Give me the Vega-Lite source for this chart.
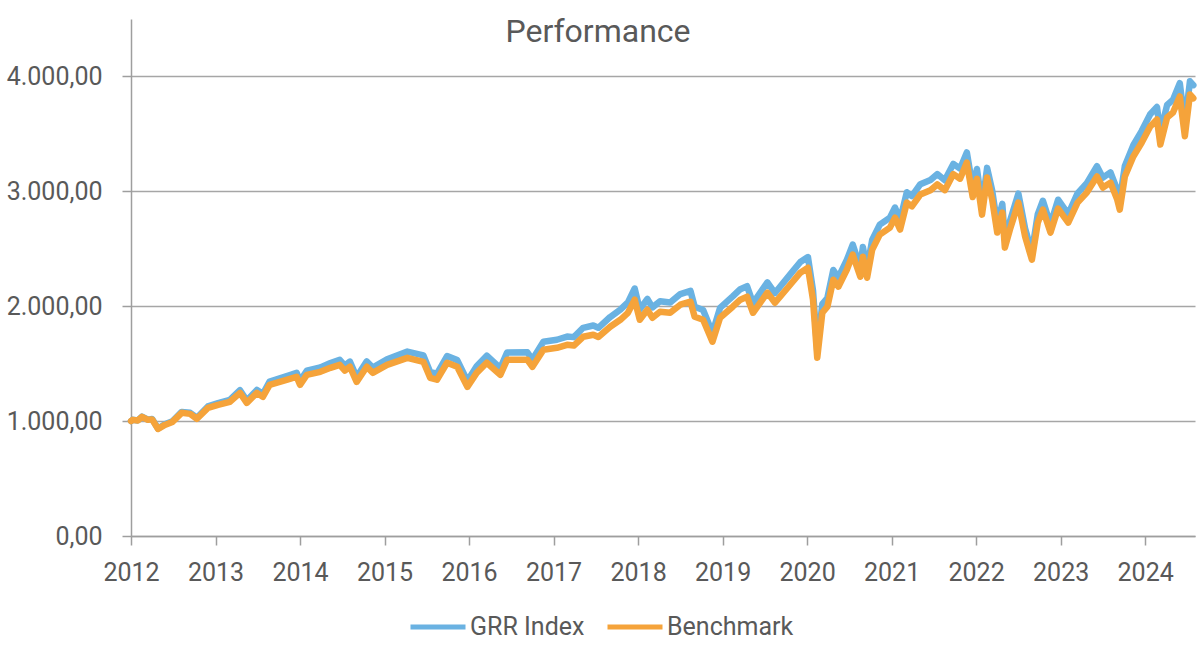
{
  "$schema": "https://vega.github.io/schema/vega-lite/v6.json",
  "width": 1064,
  "height": 517,
  "autosize": "none",
  "padding": {"left": 131, "top": 19, "right": 5, "bottom": 135},
  "background": "white",
  "title": {
    "text": "Performance",
    "fontSize": 32,
    "fontWeight": "normal",
    "color": "#595959",
    "anchor": "middle",
    "frame": "group",
    "dx": -65,
    "baseline": "alphabetic",
    "offset": 0,
    "dy": 55
  },
  "data": {
    "values": [
      {"t": 2012.00, "GRR Index": 1000, "Benchmark": 1000},
      {"t": 2012.02, "GRR Index": 1011, "Benchmark": 1011},
      {"t": 2012.08, "GRR Index": 1006, "Benchmark": 1005},
      {"t": 2012.13, "GRR Index": 1039, "Benchmark": 1037},
      {"t": 2012.20, "GRR Index": 1013, "Benchmark": 1011},
      {"t": 2012.25, "GRR Index": 1018, "Benchmark": 1015},
      {"t": 2012.32, "GRR Index": 936, "Benchmark": 932},
      {"t": 2012.40, "GRR Index": 972, "Benchmark": 967},
      {"t": 2012.49, "GRR Index": 999, "Benchmark": 993},
      {"t": 2012.60, "GRR Index": 1080, "Benchmark": 1072},
      {"t": 2012.70, "GRR Index": 1072, "Benchmark": 1063},
      {"t": 2012.78, "GRR Index": 1030, "Benchmark": 1020},
      {"t": 2012.91, "GRR Index": 1128, "Benchmark": 1115},
      {"t": 2013.03, "GRR Index": 1156, "Benchmark": 1142},
      {"t": 2013.17, "GRR Index": 1185, "Benchmark": 1168},
      {"t": 2013.29, "GRR Index": 1269, "Benchmark": 1246},
      {"t": 2013.37, "GRR Index": 1180, "Benchmark": 1159},
      {"t": 2013.49, "GRR Index": 1271, "Benchmark": 1246},
      {"t": 2013.56, "GRR Index": 1236, "Benchmark": 1211},
      {"t": 2013.64, "GRR Index": 1344, "Benchmark": 1316},
      {"t": 2013.76, "GRR Index": 1372, "Benchmark": 1342},
      {"t": 2013.88, "GRR Index": 1400, "Benchmark": 1368},
      {"t": 2013.96, "GRR Index": 1420, "Benchmark": 1386},
      {"t": 2014.00, "GRR Index": 1349, "Benchmark": 1316},
      {"t": 2014.08, "GRR Index": 1439, "Benchmark": 1403},
      {"t": 2014.24, "GRR Index": 1467, "Benchmark": 1429},
      {"t": 2014.36, "GRR Index": 1505, "Benchmark": 1464},
      {"t": 2014.47, "GRR Index": 1534, "Benchmark": 1490},
      {"t": 2014.53, "GRR Index": 1483, "Benchmark": 1440},
      {"t": 2014.59, "GRR Index": 1518, "Benchmark": 1473},
      {"t": 2014.67, "GRR Index": 1383, "Benchmark": 1342},
      {"t": 2014.79, "GRR Index": 1520, "Benchmark": 1473},
      {"t": 2014.86, "GRR Index": 1466, "Benchmark": 1420},
      {"t": 2015.03, "GRR Index": 1539, "Benchmark": 1490},
      {"t": 2015.27, "GRR Index": 1605, "Benchmark": 1551},
      {"t": 2015.46, "GRR Index": 1572, "Benchmark": 1516},
      {"t": 2015.54, "GRR Index": 1428, "Benchmark": 1377},
      {"t": 2015.62, "GRR Index": 1411, "Benchmark": 1360},
      {"t": 2015.74, "GRR Index": 1566, "Benchmark": 1508},
      {"t": 2015.86, "GRR Index": 1531, "Benchmark": 1473},
      {"t": 2015.98, "GRR Index": 1350, "Benchmark": 1298},
      {"t": 2016.09, "GRR Index": 1477, "Benchmark": 1420},
      {"t": 2016.21, "GRR Index": 1569, "Benchmark": 1508},
      {"t": 2016.37, "GRR Index": 1461, "Benchmark": 1403},
      {"t": 2016.45, "GRR Index": 1598, "Benchmark": 1534},
      {"t": 2016.69, "GRR Index": 1599, "Benchmark": 1534},
      {"t": 2016.75, "GRR Index": 1536, "Benchmark": 1473},
      {"t": 2016.88, "GRR Index": 1691, "Benchmark": 1621},
      {"t": 2017.04, "GRR Index": 1708, "Benchmark": 1638},
      {"t": 2017.16, "GRR Index": 1736, "Benchmark": 1664},
      {"t": 2017.24, "GRR Index": 1731, "Benchmark": 1658},
      {"t": 2017.35, "GRR Index": 1812, "Benchmark": 1734},
      {"t": 2017.47, "GRR Index": 1832, "Benchmark": 1752},
      {"t": 2017.53, "GRR Index": 1812, "Benchmark": 1732},
      {"t": 2017.67, "GRR Index": 1906, "Benchmark": 1821},
      {"t": 2017.79, "GRR Index": 1970, "Benchmark": 1882},
      {"t": 2017.88, "GRR Index": 2034, "Benchmark": 1943},
      {"t": 2017.96, "GRR Index": 2154, "Benchmark": 2057},
      {"t": 2018.02, "GRR Index": 1972, "Benchmark": 1882},
      {"t": 2018.11, "GRR Index": 2063, "Benchmark": 1969},
      {"t": 2018.17, "GRR Index": 1990, "Benchmark": 1900},
      {"t": 2018.26, "GRR Index": 2044, "Benchmark": 1952},
      {"t": 2018.38, "GRR Index": 2033, "Benchmark": 1943},
      {"t": 2018.50, "GRR Index": 2106, "Benchmark": 2013},
      {"t": 2018.62, "GRR Index": 2133, "Benchmark": 2039},
      {"t": 2018.67, "GRR Index": 1995, "Benchmark": 1908},
      {"t": 2018.77, "GRR Index": 1967, "Benchmark": 1882},
      {"t": 2018.88, "GRR Index": 1767, "Benchmark": 1691},
      {"t": 2018.97, "GRR Index": 1985, "Benchmark": 1900},
      {"t": 2019.12, "GRR Index": 2085, "Benchmark": 1996},
      {"t": 2019.21, "GRR Index": 2148, "Benchmark": 2057},
      {"t": 2019.29, "GRR Index": 2174, "Benchmark": 2083},
      {"t": 2019.36, "GRR Index": 2027, "Benchmark": 1943},
      {"t": 2019.53, "GRR Index": 2208, "Benchmark": 2118},
      {"t": 2019.62, "GRR Index": 2115, "Benchmark": 2030},
      {"t": 2019.80, "GRR Index": 2277, "Benchmark": 2187},
      {"t": 2019.92, "GRR Index": 2385, "Benchmark": 2292},
      {"t": 2020.01, "GRR Index": 2428, "Benchmark": 2335},
      {"t": 2020.07, "GRR Index": 2138, "Benchmark": 2057},
      {"t": 2020.12, "GRR Index": 1611, "Benchmark": 1551},
      {"t": 2020.18, "GRR Index": 2018, "Benchmark": 1943},
      {"t": 2020.24, "GRR Index": 2072, "Benchmark": 1996},
      {"t": 2020.31, "GRR Index": 2315, "Benchmark": 2231},
      {"t": 2020.37, "GRR Index": 2250, "Benchmark": 2170},
      {"t": 2020.47, "GRR Index": 2402, "Benchmark": 2318},
      {"t": 2020.54, "GRR Index": 2536, "Benchmark": 2449},
      {"t": 2020.63, "GRR Index": 2336, "Benchmark": 2257},
      {"t": 2020.66, "GRR Index": 2515, "Benchmark": 2431},
      {"t": 2020.71, "GRR Index": 2325, "Benchmark": 2248},
      {"t": 2020.77, "GRR Index": 2576, "Benchmark": 2492},
      {"t": 2020.86, "GRR Index": 2710, "Benchmark": 2623},
      {"t": 2020.98, "GRR Index": 2770, "Benchmark": 2684},
      {"t": 2021.04, "GRR Index": 2859, "Benchmark": 2771},
      {"t": 2021.10, "GRR Index": 2751, "Benchmark": 2667},
      {"t": 2021.18, "GRR Index": 2992, "Benchmark": 2902},
      {"t": 2021.24, "GRR Index": 2959, "Benchmark": 2870},
      {"t": 2021.34, "GRR Index": 3062, "Benchmark": 2972},
      {"t": 2021.46, "GRR Index": 3099, "Benchmark": 3010},
      {"t": 2021.54, "GRR Index": 3150, "Benchmark": 3060},
      {"t": 2021.63, "GRR Index": 3096, "Benchmark": 3010},
      {"t": 2021.73, "GRR Index": 3239, "Benchmark": 3150},
      {"t": 2021.81, "GRR Index": 3197, "Benchmark": 3110},
      {"t": 2021.89, "GRR Index": 3339, "Benchmark": 3250},
      {"t": 2021.96, "GRR Index": 3030, "Benchmark": 2950},
      {"t": 2022.01, "GRR Index": 3194, "Benchmark": 3110},
      {"t": 2022.07, "GRR Index": 2873, "Benchmark": 2797},
      {"t": 2022.13, "GRR Index": 3204, "Benchmark": 3120},
      {"t": 2022.19, "GRR Index": 3007, "Benchmark": 2928},
      {"t": 2022.25, "GRR Index": 2712, "Benchmark": 2641},
      {"t": 2022.31, "GRR Index": 2891, "Benchmark": 2815},
      {"t": 2022.34, "GRR Index": 2578, "Benchmark": 2510},
      {"t": 2022.40, "GRR Index": 2739, "Benchmark": 2667},
      {"t": 2022.50, "GRR Index": 2980, "Benchmark": 2902},
      {"t": 2022.58, "GRR Index": 2676, "Benchmark": 2606},
      {"t": 2022.66, "GRR Index": 2470, "Benchmark": 2405},
      {"t": 2022.73, "GRR Index": 2802, "Benchmark": 2728},
      {"t": 2022.79, "GRR Index": 2918, "Benchmark": 2841},
      {"t": 2022.88, "GRR Index": 2712, "Benchmark": 2641},
      {"t": 2022.97, "GRR Index": 2927, "Benchmark": 2850},
      {"t": 2023.09, "GRR Index": 2802, "Benchmark": 2728},
      {"t": 2023.20, "GRR Index": 2982, "Benchmark": 2902},
      {"t": 2023.31, "GRR Index": 3072, "Benchmark": 2989},
      {"t": 2023.43, "GRR Index": 3218, "Benchmark": 3129},
      {"t": 2023.50, "GRR Index": 3119, "Benchmark": 3033},
      {"t": 2023.59, "GRR Index": 3165, "Benchmark": 3076},
      {"t": 2023.67, "GRR Index": 3013, "Benchmark": 2928},
      {"t": 2023.70, "GRR Index": 2924, "Benchmark": 2841},
      {"t": 2023.76, "GRR Index": 3221, "Benchmark": 3129},
      {"t": 2023.86, "GRR Index": 3401, "Benchmark": 3303},
      {"t": 2023.96, "GRR Index": 3527, "Benchmark": 3425},
      {"t": 2024.06, "GRR Index": 3671, "Benchmark": 3564},
      {"t": 2024.14, "GRR Index": 3734, "Benchmark": 3625},
      {"t": 2024.18, "GRR Index": 3509, "Benchmark": 3407},
      {"t": 2024.26, "GRR Index": 3752, "Benchmark": 3643},
      {"t": 2024.33, "GRR Index": 3797, "Benchmark": 3686},
      {"t": 2024.41, "GRR Index": 3941, "Benchmark": 3826},
      {"t": 2024.47, "GRR Index": 3584, "Benchmark": 3480},
      {"t": 2024.53, "GRR Index": 3958, "Benchmark": 3843},
      {"t": 2024.57, "GRR Index": 3924, "Benchmark": 3810}
    ]
  },
  "transform": [
    {"fold": ["GRR Index", "Benchmark"], "as": ["series", "value"]}
  ],
  "encoding": {
    "x": {
      "field": "t",
      "type": "quantitative",
      "title": null,
      "scale": {"domain": [2012, 2024.59], "nice": false, "zero": false},
      "axis": {
        "values": [2012, 2013, 2014, 2015, 2016, 2017, 2018, 2019, 2020, 2021, 2022, 2023, 2024],
        "format": "d",
        "grid": false,
        "labelOverlap": false,
        "labelFlush": false,
        "labelBound": false,
        "labelPadding": 15
      }
    },
    "y": {
      "field": "value",
      "type": "quantitative",
      "title": null,
      "scale": {"domain": [0, 4500], "nice": false},
      "axis": {
        "values": [0, 1000, 2000, 3000, 4000],
        "labelExpr": "replace(replace(replace(format(datum.value, ',.2f'), ',', 'X'), '.', ','), 'X', '.')",
        "grid": true,
        "labelPadding": 20
      }
    },
    "color": {
      "field": "series",
      "type": "nominal",
      "title": null,
      "scale": {"domain": ["GRR Index", "Benchmark"], "range": ["#6AB2E2", "#F5A33A"]},
      "legend": {
        "orient": "none",
        "legendX": 277,
        "legendY": 578,
        "direction": "horizontal",
        "symbolType": "stroke",
        "symbolSize": 3025,
        "symbolStrokeWidth": 5,
        "labelOffset": 2,
        "columnPadding": 12,
        "labelFontSize": 25,
        "labelColor": "#595959",
        "labelFont": "Roboto"
      }
    }
  },
  "layer": [
    {
      "transform": [{"filter": "datum.series == 'GRR Index'"}],
      "mark": {"type": "line", "strokeWidth": 6.5, "strokeJoin": "round", "strokeCap": "round"}
    },
    {
      "transform": [{"filter": "datum.series == 'Benchmark'"}],
      "mark": {"type": "line", "strokeWidth": 6.5, "strokeJoin": "round", "strokeCap": "round"}
    }
  ],
  "config": {
    "font": "Roboto",
    "view": {"stroke": null},
    "axis": {
      "labelFont": "Roboto",
      "labelFontSize": 25,
      "labelColor": "#595959",
      "domainColor": "#9e9e9e",
      "domainWidth": 1.5,
      "tickColor": "#9e9e9e",
      "tickWidth": 1.5,
      "tickSize": 9,
      "gridColor": "#a6a6a6",
      "gridWidth": 1.5
    },
    "title": {"font": "Roboto"}
  }
}
